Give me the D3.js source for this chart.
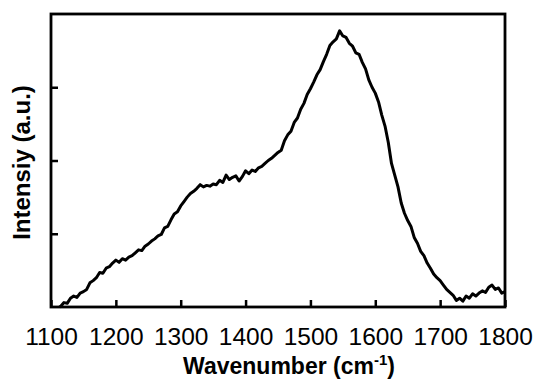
<!DOCTYPE html>
<html>
<head>
	<meta charset="UTF-8">
	<title>Raman spectrum</title>
	<script src="https://d3js.org/d3.v7.min.js"></script>
	<style>
		body { margin: 0; background: #fff; }
		text { font-family: "Liberation Sans", Arial, sans-serif; fill: #000; }
		.frame { fill: none; stroke: #000; stroke-width: 2.8px; }
		.spectrum { fill: none; stroke: #000; stroke-width: 3px; stroke-linejoin: round; }
		.tick line { stroke: #000; stroke-width: 2.5px; }
	</style>
</head>
<body>
	<script>
		// wavenumber (cm-1) and intensity
		var wavenumber = [1113, 1115, 1120, 1125, 1130, 1135, 1140, 1145, 1150, 1155, 1160, 1165, 1170, 1175, 1180, 1185, 1190, 1195,
			1200, 1205, 1210, 1215, 1220, 1225, 1230, 1235, 1240, 1245, 1250, 1255, 1260, 1265, 1270, 1275, 1280, 1285, 1290, 1295,
			1300, 1305, 1310, 1315, 1320, 1325, 1330, 1335, 1340, 1345, 1350, 1355, 1360, 1365, 1370, 1375, 1380, 1385, 1390, 1395,
			1400, 1405, 1410, 1415, 1420, 1425, 1430, 1435, 1440, 1445, 1450, 1455, 1460, 1465, 1470, 1475, 1480, 1485, 1490, 1495,
			1500, 1505, 1510, 1515, 1520, 1525, 1530, 1535, 1540, 1545, 1550, 1555, 1560, 1565, 1570, 1575, 1580, 1585, 1590, 1595,
			1600, 1605, 1610, 1615, 1620, 1625, 1630, 1635, 1640, 1645, 1650, 1655, 1660, 1665, 1670, 1675, 1680, 1685, 1690, 1695,
			1700, 1705, 1710, 1715, 1720, 1725, 1730, 1735, 1740, 1745, 1750, 1755, 1760, 1765, 1770, 1775, 1780, 1785, 1790, 1795, 1800];
		var intensity = [0.00, 0.01, 0.06, 0.05, 0.12, 0.15, 0.13, 0.19, 0.21, 0.24, 0.33, 0.36, 0.40, 0.47, 0.46, 0.53, 0.55, 0.60,
			0.64, 0.61, 0.66, 0.64, 0.68, 0.70, 0.74, 0.78, 0.77, 0.83, 0.86, 0.90, 0.93, 0.97, 0.99, 1.08, 1.10, 1.19, 1.27, 1.30,
			1.38, 1.44, 1.50, 1.55, 1.58, 1.62, 1.67, 1.64, 1.66, 1.65, 1.68, 1.67, 1.73, 1.70, 1.80, 1.74, 1.77, 1.79, 1.72, 1.78,
			1.86, 1.82, 1.87, 1.85, 1.90, 1.92, 1.96, 2.00, 2.03, 2.07, 2.11, 2.14, 2.27, 2.35, 2.40, 2.52, 2.58, 2.70, 2.78, 2.90,
			2.98, 3.07, 3.17, 3.24, 3.35, 3.45, 3.57, 3.62, 3.66, 3.77, 3.70, 3.68, 3.60, 3.56, 3.47, 3.45, 3.34, 3.25, 3.10, 3.00,
			2.92, 2.80, 2.62, 2.47, 2.25, 1.96, 1.80, 1.64, 1.42, 1.28, 1.18, 1.10, 0.95, 0.87, 0.76, 0.70, 0.60, 0.53, 0.45, 0.40,
			0.36, 0.30, 0.24, 0.20, 0.16, 0.09, 0.12, 0.08, 0.15, 0.12, 0.18, 0.15, 0.19, 0.22, 0.20, 0.27, 0.30, 0.24, 0.26, 0.19, 0.21];
		var xTicks = [1100, 1200, 1300, 1400, 1500, 1600, 1700, 1800];
		var yTicks = [1, 2, 3];

		var margin = {top: 14, right: 30, bottom: 74, left: 51},
		    W = 535, H = 381,
		    width = W - margin.left - margin.right,
		    height = H - margin.top - margin.bottom;

		var svg = d3.select("body").append("svg")
		    .attr("width", W)
		    .attr("height", H);

		var g = svg.append("g")
		    .attr("transform", "translate(" + margin.left + "," + margin.top + ")");

		var x = d3.scaleLinear().domain([1100, 1800]).range([0, width]);
		var y = d3.scaleLinear().domain([0, 4]).range([height, 0]);

		// bottom axis, ticks pointing inward
		var xAxis = g.append("g")
		    .attr("transform", "translate(0," + height + ")")
		    .call(d3.axisBottom(x).tickValues(xTicks).tickSize(-7).tickPadding(38).tickFormat(d3.format("d")));
		xAxis.select(".domain").remove();
		xAxis.selectAll("text").style("font-size", "24.5px").attr("dy", "0");

		var yAxis = g.append("g")
		    .call(d3.axisLeft(y).tickValues(yTicks).tickSize(-7).tickFormat(""));
		yAxis.select(".domain").remove();

		// frame
		g.append("rect")
		    .attr("class", "frame")
		    .attr("width", width)
		    .attr("height", height);

		var data = wavenumber.map(function(d, i) { return [d, intensity[i]]; });

		g.append("path")
		    .datum(data)
		    .attr("class", "spectrum")
		    .attr("d", d3.line()
		        .x(function(d) { return x(d[0]); })
		        .y(function(d) { return y(d[1]); }));

		// axis titles
		var xt = svg.append("text")
		    .attr("x", margin.left + width / 2 + 11)
		    .attr("y", 374)
		    .attr("text-anchor", "middle")
		    .style("font-size", "23px")
		    .style("font-weight", "bold");
		xt.append("tspan").text("Wavenumber (cm");
		xt.append("tspan").attr("dy", -9).style("font-size", "15px").text("-1");
		xt.append("tspan").attr("dy", 9).text(")");

		svg.append("text")
		    .attr("transform", "translate(30," + (margin.top + height / 2 + 2) + ") rotate(-90)")
		    .attr("text-anchor", "middle")
		    .style("font-size", "24px")
		    .style("font-weight", "bold")
		    .text("Intensiy (a.u.)");
	</script>
</body>
</html>
